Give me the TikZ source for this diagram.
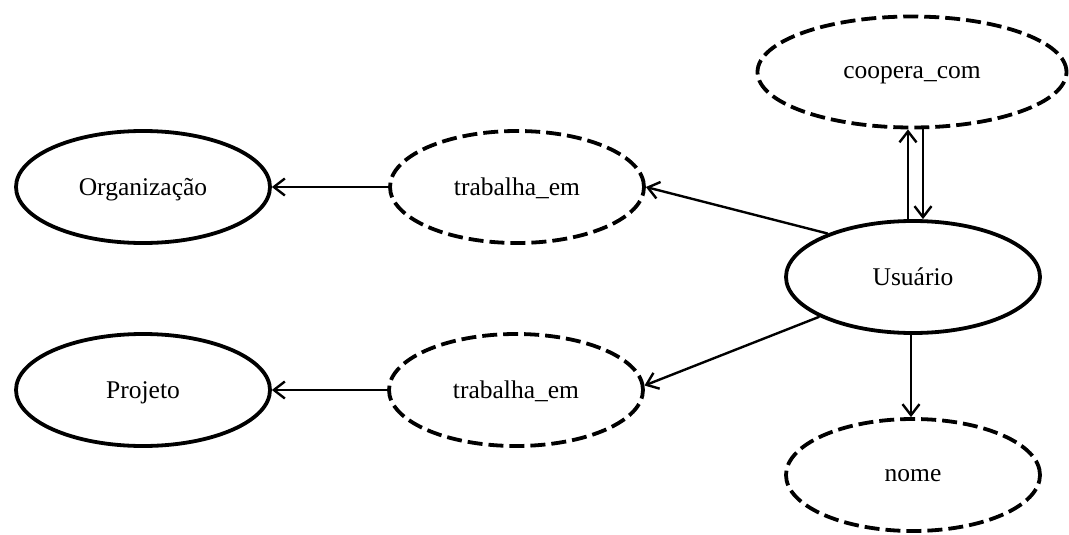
\documentclass[tikz,border=0pt]{standalone}
\usepackage{fontspec}
\setmainfont{Liberation Serif}
\usetikzlibrary{shapes.geometric,arrows.meta}
\begin{document}
\begin{tikzpicture}[x=1pt,y=-1pt,
  ent/.style={ellipse,draw,line width=3.8pt,minimum width=254pt,minimum height=112pt,inner sep=0pt,text depth=0pt,font=\fontsize{25.5}{30}\selectfont},
  rel/.style={ent,dash pattern=on 15pt off 6pt},
  arr/.style={line width=2.4pt,-{Straight Barb[length=11pt,width=17pt,line width=2.4pt]}}]
\useasboundingbox (0,0) rectangle (1069,535);
\node[ent] (org) at (143,187) {Organização};
\node[ent] (proj) at (143,390) {Projeto};
\node[rel] (t1) at (517,187) {trabalha\_em};
\node[rel] (t2) at (516,390) {trabalha\_em};
\node[rel,minimum width=309pt,minimum height=111pt] (coop) at (912,72) {coopera\_com};
\node[ent] (usr) at (913,277) {Usuário};
\node[rel] (nome) at (913,475) {nome};
\draw[arr] (t1) -- (org);
\draw[arr] (t2) -- (proj);
\draw[arr] (usr.153) -- (t1.east);
\draw[arr] (usr.203) -- (t2.2);
\draw[arr] ([xshift=-5pt]usr.north) -- ([xshift=-5pt]usr.north |- coop.south);
\draw[arr] ([xshift=11pt]coop.south) -- ([xshift=11pt]coop.south |- usr.north);
\draw[arr] ([xshift=-2pt]usr.south) -- ([xshift=-2pt]usr.south |- nome.north);
\end{tikzpicture}
\end{document}
